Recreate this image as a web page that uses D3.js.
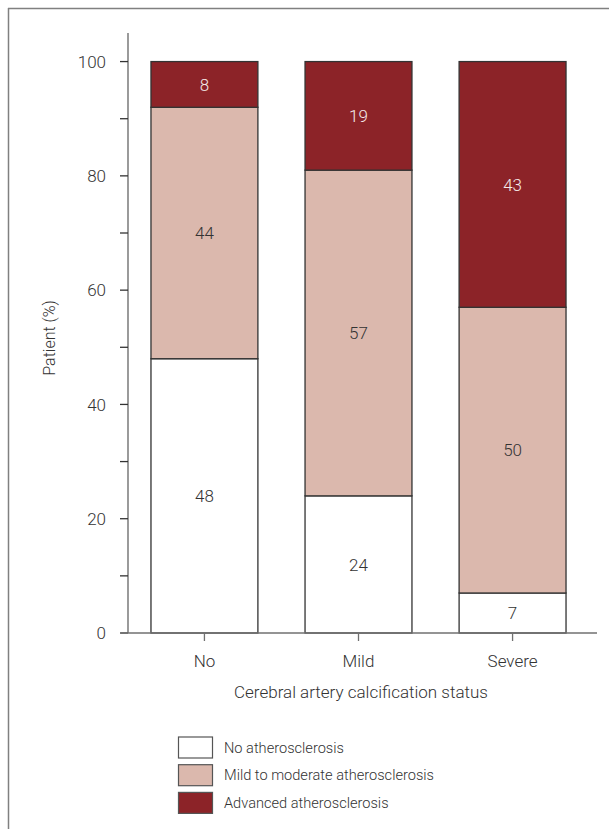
<!DOCTYPE html>
<html>
<head>
<meta charset="utf-8">
<script src="https://cdn.jsdelivr.net/npm/d3@7"></script>
<style>
  html, body { margin: 0; padding: 0; background: #fff; }
  svg { display: block; }
  text { font-family: Roboto, "Open Sans", sans-serif; font-weight: 300; fill: #333; }
</style>
</head>
<body>
<svg id="chart" width="609" height="829"></svg>
<script>
const categories = ["No", "Mild", "Severe"];
const seriesNames = ["No atherosclerosis", "Mild to moderate atherosclerosis", "Advanced atherosclerosis"];
const noAthero = [48, 24, 7];
const mildModerate = [44, 57, 50];
const advanced = [8, 19, 43];
const yTicks = [0, 20, 40, 60, 80, 100];
const yMinorTicks = [10, 30, 50, 70, 90];
const colors = ["#ffffff", "#dbb8ad", "#8c2328"];

const svg = d3.select("#chart");

// frame
svg.append("line").attr("x1", 8.5).attr("x2", 8.5).attr("y1", 8).attr("y2", 829)
  .attr("stroke", "#808080").attr("stroke-width", 1.5);
svg.append("line").attr("x1", 8).attr("x2", 609).attr("y1", 8.5).attr("y2", 8.5)
  .attr("stroke", "#808080").attr("stroke-width", 1.5);

const y = d3.scaleLinear().domain([0, 105]).range([633, 33]);
const x = d3.scaleBand().domain(categories).range([127.4, 589.6]).paddingInner(0.306).paddingOuter(0.153);

const data = categories.map((c, i) => ({ cat: c, values: [noAthero[i], mildModerate[i], advanced[i]] }));

// bars
data.forEach(d => {
  let acc = 0;
  d.values.forEach((v, k) => {
    const y0 = acc, y1 = acc + v;
    acc = y1;
    svg.append("rect")
      .attr("x", x(d.cat)).attr("width", x.bandwidth())
      .attr("y", y(y1)).attr("height", y(y0) - y(y1))
      .attr("fill", colors[k]).attr("stroke", "#333").attr("stroke-width", 1.3);
    svg.append("text")
      .attr("x", x(d.cat) + x.bandwidth() / 2)
      .attr("y", y((y0 + y1) / 2))
      .attr("dy", "0.36em")
      .attr("text-anchor", "middle")
      .attr("font-size", 17)
      .style("fill", k === 2 ? "#f4eaea" : "#333")
      .text(v);
  });
});

// y axis
const axisColor = "#707070";
svg.append("line").attr("x1", 128).attr("x2", 128).attr("y1", y(105)).attr("y2", y(0))
  .attr("stroke", axisColor).attr("stroke-width", 1.4);
svg.selectAll(".ytick").data(yTicks.concat(yMinorTicks)).enter().append("line")
  .attr("x1", 120).attr("x2", 128).attr("y1", d => y(d)).attr("y2", d => y(d))
  .attr("stroke", "#333").attr("stroke-width", 1.3);
svg.selectAll(".ylab").data(yTicks).enter().append("text")
  .attr("x", 106).attr("y", d => y(d)).attr("dy", "0.36em")
  .attr("text-anchor", "end").attr("font-size", 17)
  .text(d => d);

// x axis baseline
svg.append("line").attr("x1", 121).attr("x2", 597).attr("y1", y(0)).attr("y2", y(0))
  .attr("stroke", axisColor).attr("stroke-width", 1.4);
svg.selectAll(".xtick").data(categories).enter().append("line")
  .attr("x1", d => x(d) + x.bandwidth() / 2).attr("x2", d => x(d) + x.bandwidth() / 2)
  .attr("y1", y(0)).attr("y2", y(0) + 8)
  .attr("stroke", axisColor).attr("stroke-width", 1.3);
svg.selectAll(".xlab").data(categories).enter().append("text")
  .attr("x", d => x(d) + x.bandwidth() / 2).attr("y", 661).attr("dy", "0.36em")
  .attr("text-anchor", "middle").attr("font-size", 17)
  .text(d => d);

// axis titles
svg.append("text").attr("x", 361).attr("y", 692).attr("dy", "0.36em")
  .attr("text-anchor", "middle").attr("font-size", 17)
  .text("Cerebral artery calcification status");
svg.append("text").attr("transform", "translate(49,338) rotate(-90)")
  .attr("dy", "0.36em").attr("text-anchor", "middle").attr("font-size", 16)
  .text("Patient (%)");

// legend
const lg = svg.append("g");
seriesNames.forEach((name, i) => {
  const yy = 737 + i * 27.7;
  lg.append("rect").attr("x", 178.5).attr("y", yy).attr("width", 34).attr("height", 21)
    .attr("fill", colors[i]).attr("stroke", "#555").attr("stroke-width", 1.2);
  lg.append("text").attr("x", 224).attr("y", yy + 10.5).attr("dy", "0.36em")
    .attr("font-size", 14.6).text(name);
});
</script>
</body>
</html>
